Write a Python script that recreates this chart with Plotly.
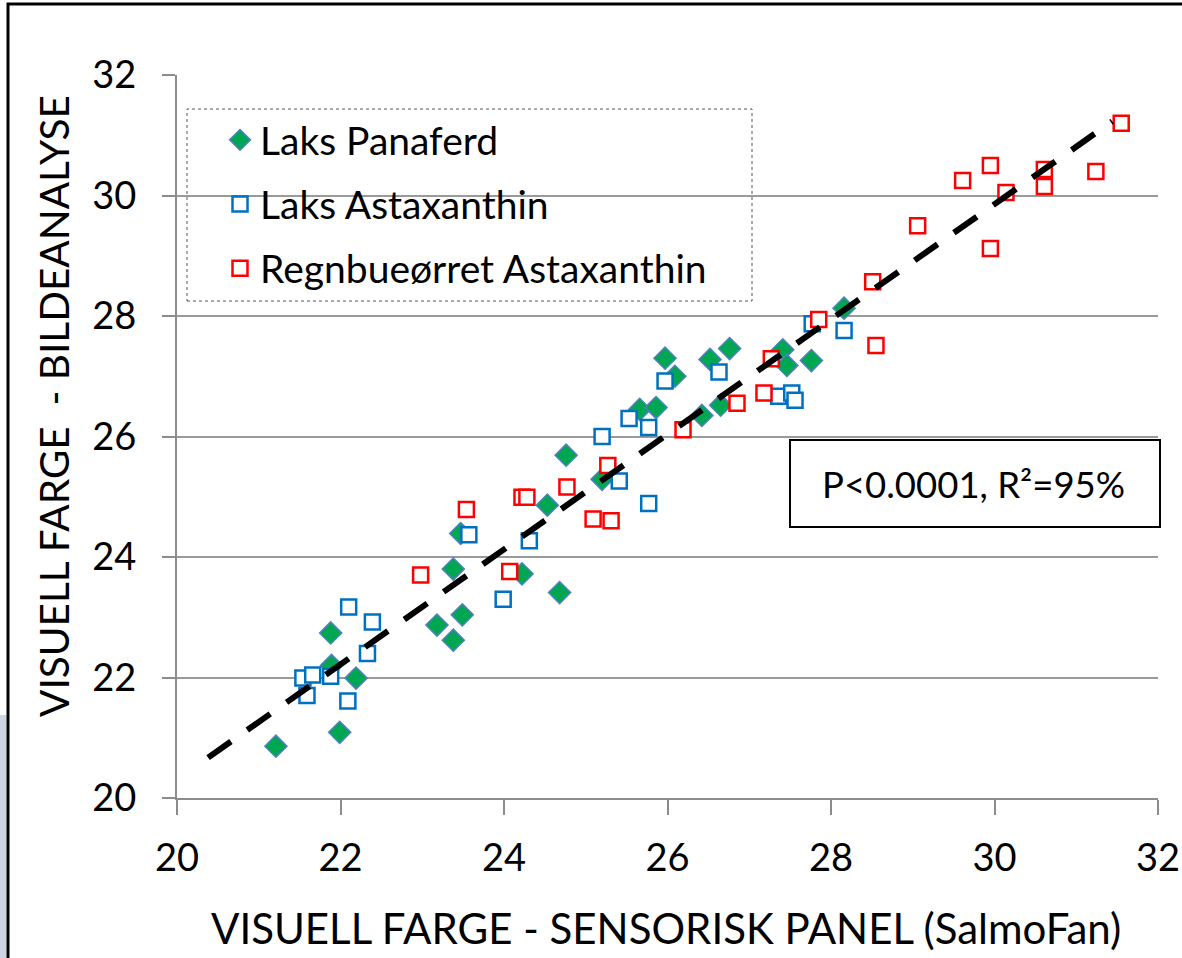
import plotly.graph_objects as go

# ---- data ----
panaferd_x = [21.21, 21.99, 21.88, 21.89, 22.19, 23.18, 23.38, 23.49, 23.38, 23.47,
              24.22, 24.68, 24.53, 24.76, 25.20, 25.66, 25.86, 25.97, 26.09, 26.42,
              26.52, 26.65, 26.76, 27.41, 27.46, 27.76, 28.16]
panaferd_y = [20.86, 21.09, 22.74, 22.20, 21.99, 22.87, 22.62, 23.04, 23.80, 24.39,
              23.72, 23.41, 24.86, 25.69, 25.29, 26.45, 26.48, 27.30, 27.00, 26.35,
              27.28, 26.52, 27.46, 27.44, 27.18, 27.26, 28.13]

laks_asta_x = [21.54, 21.66, 21.88, 21.59, 22.09, 22.10, 22.39, 22.33, 23.57, 23.99,
               24.31, 25.20, 25.41, 25.53, 25.77, 25.77, 25.97, 26.63, 27.36, 27.52,
               27.56, 27.77, 28.16]
laks_asta_y = [21.99, 22.04, 22.02, 21.70, 21.61, 23.17, 22.92, 22.40, 24.37, 23.30,
               24.27, 26.00, 25.26, 26.30, 26.15, 24.89, 26.92, 27.07, 26.67, 26.72,
               26.60, 27.87, 27.76]

regn_asta_x = [22.98, 23.54, 24.07, 24.22, 24.28, 24.77, 25.09, 25.31, 25.27, 26.19,
               26.85, 27.18, 27.27, 27.85, 28.51, 28.55, 29.06, 29.61, 29.95, 29.95,
               30.14, 30.61, 30.61, 31.24, 31.55]
regn_asta_y = [23.70, 24.79, 23.76, 24.99, 24.99, 25.16, 24.63, 24.60, 25.52, 26.11,
               26.55, 26.72, 27.29, 27.94, 28.57, 27.51, 29.50, 30.25, 30.50, 29.12,
               30.05, 30.43, 30.15, 30.40, 31.20]

trend_x = [20.38, 31.44]
trend_y = [20.67, 31.23]

series_names = ["Laks Panaferd", "Laks Astaxanthin", "Regnbueørret Astaxanthin"]
x_ticks = [20, 22, 24, 26, 28, 30, 32]
y_ticks = [20, 22, 24, 26, 28, 30, 32]
x_title = "VISUELL FARGE - SENSORISK PANEL (SalmoFan)"
y_title = "VISUELL FARGE \u00a0- BILDEANALYSE"
stat_text = "P<0.0001, R²=95%"

FONT = "Lato, 'Open Sans', sans-serif"

# plot-area geometry in pixels (for paper-coordinate helpers)
W, H = 1182, 958
L, R, T, B = 177, 24, 75, 160
PW, PH = W - L - R, H - T - B


def px(xp):
    return (xp - L) / PW


def py(yp):
    return (H - B - yp) / PH


fig = go.Figure()

fig.add_trace(go.Scatter(
    x=panaferd_x, y=panaferd_y, mode="markers", name=series_names[0],
    legendgroup="g1",
    marker=dict(symbol="diamond", size=17, color="#00A651",
                line=dict(color="#4F81BD", width=1.5)),
))
fig.add_trace(go.Scatter(
    x=laks_asta_x, y=laks_asta_y, mode="markers", name=series_names[1],
    legendgroup="g2",
    marker=dict(symbol="square", size=15, color="white",
                line=dict(color="#0070C0", width=2.5)),
))
fig.add_trace(go.Scatter(
    x=regn_asta_x, y=regn_asta_y, mode="markers", name=series_names[2],
    legendgroup="g3",
    marker=dict(symbol="square", size=15, color="white",
                line=dict(color="#FF0000", width=2.5)),
))
fig.add_trace(go.Scatter(
    x=trend_x, y=trend_y, mode="lines", showlegend=False, hoverinfo="skip",
    line=dict(color="black", width=6, dash="28px,20px"),
))

shapes = [
    # outer frame
    dict(type="rect", xref="paper", yref="paper",
         x0=px(8), x1=px(1200), y0=py(980), y1=py(4),
         line=dict(color="black", width=3), layer="above"),
    # photo fragment at bottom left
    dict(type="rect", xref="paper", yref="paper",
         x0=px(-2), x1=px(6.5), y0=py(960), y1=py(715),
         fillcolor="#cdd5df", line=dict(width=0), layer="below"),
    # legend box (dotted)
    dict(type="rect", xref="paper", yref="paper",
         x0=px(187), x1=px(752), y0=py(301), y1=py(109),
         fillcolor="white", line=dict(color="#555555", width=1, dash="dot"),
         layer="between"),
    # statistics box
    dict(type="rect", xref="paper", yref="paper",
         x0=px(790), x1=px(1160), y0=py(527), y1=py(440),
         fillcolor="white", line=dict(color="black", width=2),
         layer="between"),
]

annotations = [
    dict(text=stat_text, xref="paper", yref="paper", x=px(973), y=py(484),
         showarrow=False, xanchor="center", yanchor="middle",
         font=dict(family=FONT, size=36.5, color="black")),
    dict(text=y_title, xref="paper", yref="paper", x=px(53), y=py(406),
         showarrow=False, xanchor="center", yanchor="middle", textangle=-90,
         font=dict(family=FONT, size=40.5, color="black")),
    dict(text=x_title, xref="paper", yref="paper", x=px(666), y=py(928),
         showarrow=False, xanchor="center", yanchor="middle",
         font=dict(family=FONT, size=42, color="black")),
]

fig.update_layout(
    width=W, height=H,
    margin=dict(l=L, r=R, t=T, b=B, autoexpand=False),
    paper_bgcolor="white", plot_bgcolor="white",
    font=dict(family=FONT, color="black"),
    shapes=shapes, annotations=annotations,
    showlegend=True,
    legend=dict(x=px(220), y=py(108), xanchor="left", yanchor="top",
                bgcolor="rgba(0,0,0,0)", borderwidth=0,
                font=dict(family=FONT, size=39, color="black"),
                traceorder="grouped", tracegroupgap=10.5),
    xaxis=dict(range=[20, 32], tickvals=x_ticks, showgrid=False, zeroline=False,
               automargin=False,
               showline=True, linecolor="#8c8c8c", linewidth=2,
               ticks="outside", ticklen=15, tickwidth=2, tickcolor="#8c8c8c",
               tickfont=dict(family=FONT, size=38, color="black"),
               ticklabelstandoff=10),
    yaxis=dict(range=[20, 32], tickvals=y_ticks, showgrid=True,
               automargin=False,
               gridcolor="#9a9a9a", gridwidth=2, zeroline=False,
               showline=True, linecolor="#8c8c8c", linewidth=2,
               ticks="outside", ticklen=13, tickwidth=2, tickcolor="#8c8c8c",
               tickfont=dict(family=FONT, size=38, color="black"),
               ticklabelstandoff=18),
)

fig.write_html("out.html")
